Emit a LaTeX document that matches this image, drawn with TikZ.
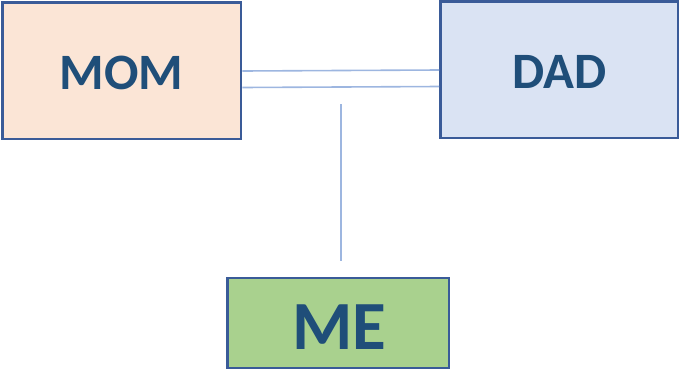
\documentclass[tikz,border=0pt]{standalone}
\usepackage{fontspec}
\setmainfont{Carlito}
\definecolor{boxline}{HTML}{3A5B98}
\definecolor{txt}{HTML}{1F4E79}
\definecolor{linkc}{HTML}{9DB6E0}
\definecolor{momfill}{HTML}{FBE5D6}
\definecolor{dadfill}{HTML}{DAE3F3}
\definecolor{mefill}{HTML}{A9D18E}
\begin{document}
\begin{tikzpicture}[x=1pt,y=-1pt,
  person/.style={draw=boxline,line width=2.8pt,inner sep=0pt},
  label text/.style={text=txt,inner sep=0pt},
  link/.style={draw=linkc,line width=1.6pt}]
\useasboundingbox (0,0) rectangle (679,370);
\node[person,fill=momfill,minimum width=238.5pt,minimum height=136.5pt] (mom) at (121.75,70.75) {};
\node[person,fill=dadfill,minimum width=237.5pt,minimum height=136.5pt] (dad) at (559.25,69.75) {};
\node[person,fill=mefill,minimum width=221.5pt,minimum height=90pt] (me) at (338.25,323) {};
\node[label text,font=\bfseries\fontsize{51}{58}\selectfont] (momt) at ([yshift=-2.5pt]mom.center) {MOM};
\node[label text,font=\bfseries\fontsize{51}{58}\selectfont] (dadt) at ([yshift=-2.5pt]dad.center) {DAD};
\node[label text,font=\bfseries\fontsize{69}{76}\selectfont] (met) at ([yshift=-4pt,xshift=1pt]me.center) {ME};
\coordinate (vt) at (341,104);
\coordinate (vb) at (341,261);
\draw[link] (mom.east |- 0,71) -- (dad.west |- 0,70);
\draw[link] (mom.east |- 0,87.5) -- (dad.west |- 0,86.5);
\draw[link] (vt) -- (vb);
\end{tikzpicture}
\end{document}
